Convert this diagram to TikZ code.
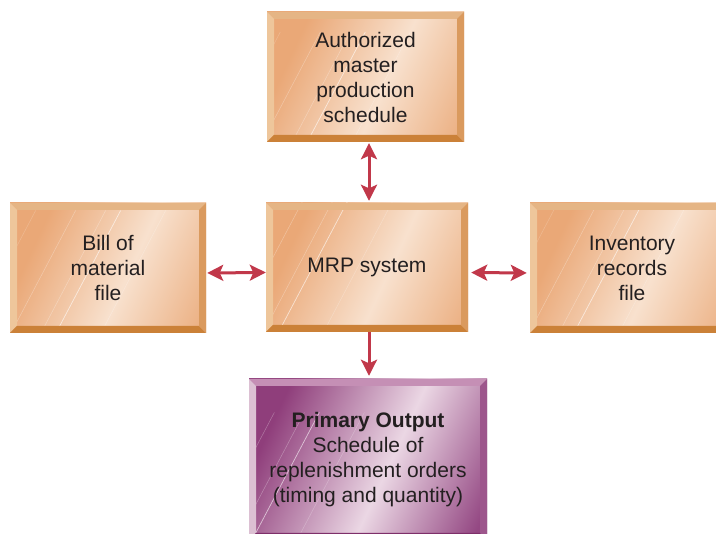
\documentclass[tikz,border=0pt]{standalone}
\usepackage{fontspec}
\setmainfont{Liberation Sans}
\usetikzlibrary{arrows.meta,calc}
\definecolor{oA}{HTML}{EAA877}
\definecolor{oB}{HTML}{F8E1CE}
\definecolor{oC}{HTML}{ECB286}
\definecolor{oTop}{HTML}{E5B585}
\definecolor{oLeft}{HTML}{EEC69B}
\definecolor{oBot}{HTML}{CB8138}
\definecolor{oRight}{HTML}{DA9A5E}
\definecolor{pA}{HTML}{8F3E7B}
\definecolor{pB}{HTML}{EBD7E4}
\definecolor{pC}{HTML}{944883}
\definecolor{pTop}{HTML}{C58FB5}
\definecolor{pLeft}{HTML}{DCC0D3}
\definecolor{pBot}{HTML}{7E2F6A}
\definecolor{pRight}{HTML}{9D568C}
\definecolor{arrred}{HTML}{C1384A}
\definecolor{txt}{HTML}{231F20}
\pgfdeclarehorizontalshading{oface}{100bp}{color(0bp)=(oA);color(28bp)=(oA);color(56bp)=(oB);color(80bp)=(oC);color(100bp)=(oC)}
\pgfdeclarehorizontalshading{pface}{100bp}{color(0bp)=(pA);color(26bp)=(pA);color(55bp)=(pB);color(80bp)=(pC);color(100bp)=(pC)}
\newcommand{\bevels}[4]{%
  \fill[#1] (path picture bounding box.north west) -- (path picture bounding box.north east)
     -- ([xshift=-7pt,yshift=-7pt]path picture bounding box.north east)
     -- ([xshift=7pt,yshift=-7pt]path picture bounding box.north west) -- cycle;
  \fill[#2] (path picture bounding box.north west) -- (path picture bounding box.south west)
     -- ([xshift=7pt,yshift=7pt]path picture bounding box.south west)
     -- ([xshift=7pt,yshift=-7pt]path picture bounding box.north west) -- cycle;
  \fill[#3] (path picture bounding box.south west) -- (path picture bounding box.south east)
     -- ([xshift=-7pt,yshift=7pt]path picture bounding box.south east)
     -- ([xshift=7pt,yshift=7pt]path picture bounding box.south west) -- cycle;
  \fill[#4] (path picture bounding box.north east) -- (path picture bounding box.south east)
     -- ([xshift=-7pt,yshift=7pt]path picture bounding box.south east)
     -- ([xshift=-7pt,yshift=-7pt]path picture bounding box.north east) -- cycle;
}
\newcommand{\streaks}{%
  \begin{scope}[shift={(path picture bounding box.center)}]
    \draw[white,opacity=0.6,line width=0.7pt] (-45,90) -- (50,-90);
    \draw[white,opacity=0.3,line width=0.5pt] (-60,90) -- (35,-90);
    \draw[white,opacity=0.3,line width=0.5pt] (-90,90) -- (5,-90);
    \draw[white,opacity=0.25,line width=0.5pt] (0,90) -- (95,-90);
    \draw[white,opacity=0.2,line width=0.5pt] (-130,90) -- (-35,-90);
  \end{scope}
}
\tikzset{
  obox/.style={rectangle, draw=none, inner sep=0pt, shading=oface, shading angle=-25,
    text=txt, align=center, font=\fontsize{21}{25}\selectfont,
    path picture={\streaks\bevels{oTop}{oLeft}{oBot}{oRight}}},
  pbox/.style={rectangle, draw=none, inner sep=0pt, shading=pface, shading angle=-25,
    text=txt, align=center, font=\fontsize{21}{25}\selectfont,
    path picture={\streaks\bevels{pTop}{pLeft}{pBot}{pRight}}},
  conn/.style={draw=arrred, line width=3pt, {Stealth[length=16pt,width=16pt,inset=3.5pt]}-{Stealth[length=16pt,width=16pt,inset=3.5pt]}},
  oneway/.style={draw=arrred, line width=3pt, -{Stealth[length=16pt,width=16pt,inset=3.5pt]}}
}
\begin{document}
\begin{tikzpicture}[x=1pt,y=-1pt]
\clip (0,0) rectangle (716,534);
\fill[white] (0,0) rectangle (716,534);
\node[obox, minimum width=197pt, minimum height=130pt] (top) at (365.5,77) {Authorized\\master\\production\\schedule};
\node[obox, minimum width=202pt, minimum height=129pt] (mrp) at (367,267.5) {MRP system};
\node[obox, minimum width=196pt, minimum height=130pt] (bill) at (108,268) {Bill of\\material\\file};
\node[obox, minimum width=204pt, minimum height=130pt] (inv) at (632,268) {Inventory\\records\\file};
\node[pbox, minimum width=238pt, minimum height=161pt] (out) at (368,459.5) {\textbf{Primary Output}\\Schedule of\\replenishment orders\\(timing and quantity)};
\coordinate (vx) at (369,0);
\draw[conn, shorten <=1pt, shorten >=2pt] (top.south -| vx) -- (mrp.north -| vx);
\draw[conn, shorten <=1pt, shorten >=0pt] ([yshift=-5pt]bill.east) -- ([yshift=-5pt]mrp.west);
\draw[conn, shorten <=3pt, shorten >=3pt] ([yshift=-5pt]mrp.east) -- ([yshift=-5pt]inv.west);
\draw[oneway, shorten >=3pt] (mrp.south -| vx) -- (out.north -| vx);
\end{tikzpicture}
\end{document}
